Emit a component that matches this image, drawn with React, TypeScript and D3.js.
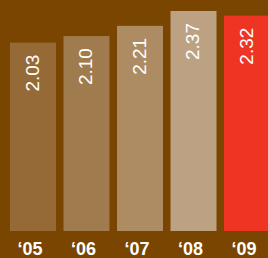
import React, { useEffect, useRef } from 'react';
import * as d3 from 'd3';

const years = ['05', '06', '07', '08', '09'];
const values = [2.03, 2.10, 2.21, 2.37, 2.32];
const colors = ['#956a36', '#9f7b4d', '#ad8c63', '#bca283', '#ee3524'];

const App = () => {
  const ref = useRef<SVGSVGElement>(null);

  useEffect(() => {
    const svg = d3.select(ref.current);
    svg.selectAll('*').remove();

    const width = 268, height = 258;

    svg.append('rect')
      .attr('width', width)
      .attr('height', height)
      .attr('fill', '#7a4500');

    const x = d3.scaleBand<string>()
      .domain(years)
      .range([10, 270])
      .paddingInner(0.14)
      .paddingOuter(0);

    const y = d3.scaleLinear()
      .domain([0, 2.37])
      .range([231, 11]);

    const data = years.map((yr, i) => ({ yr, v: values[i], c: colors[i] }));

    svg.selectAll('rect.bar')
      .data(data)
      .join('rect')
        .attr('class', 'bar')
        .attr('x', d => x(d.yr)!)
        .attr('y', d => y(d.v))
        .attr('width', x.bandwidth())
        .attr('height', d => y(0) - y(d.v))
        .attr('fill', d => d.c);

    // values, rotated inside the bars
    svg.selectAll('text.val')
      .data(data)
      .join('text')
        .attr('class', 'val')
        .attr('transform', d => `translate(${x(d.yr)! + x.bandwidth() / 2 - 1},${y(d.v) + 12}) rotate(-90)`)
        .attr('text-anchor', 'end')
        .attr('dy', '0.35em')
        .attr('fill', '#fff')
        .style('font-family', '"Liberation Sans", Arial, sans-serif')
        .style('font-size', '19px')
        .text(d => d.v.toFixed(2));

    // year labels
    svg.selectAll('text.yr')
      .data(data)
      .join('text')
        .attr('class', 'yr')
        .attr('x', d => x(d.yr)! + x.bandwidth() / 2 - 3)
        .attr('y', 255)
        .attr('text-anchor', 'middle')
        .attr('fill', '#fff')
        .style('font-family', '"Liberation Sans", Arial, sans-serif')
        .style('font-size', '18px')
        .style('font-weight', 'bold')
        .text(d => '\u2018' + d.yr);
  }, []);

  return (
    <svg ref={ref} width={268} height={258} style={{ display: 'block', position: 'absolute', left: 0, top: 0 }}></svg>
  );
};

export default App;
